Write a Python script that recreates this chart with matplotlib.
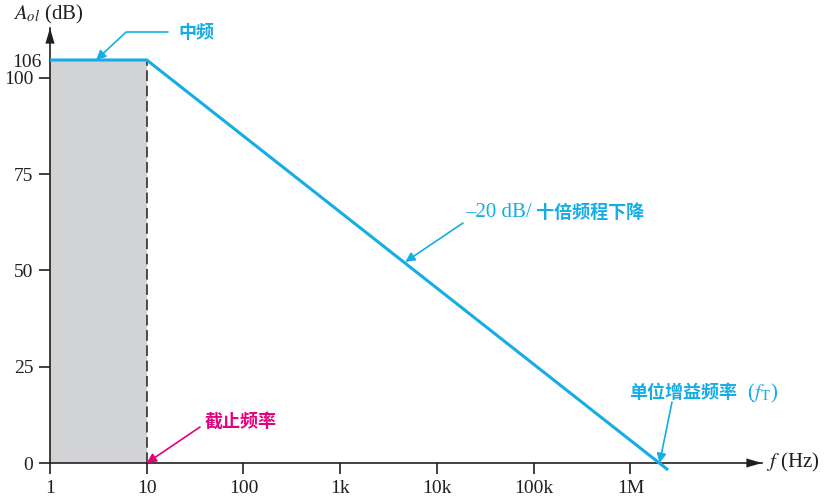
import matplotlib
matplotlib.use('Agg')
import matplotlib.pyplot as plt

# ── Данные ──────────────────────────────────────────────
freq = [1, 10, 2.45e6]          # Гц
gain = [104.6, 104.6, -1.8]     # дБ (по рисунку)
midband_freq = [1, 10]
midband_gain = 104.6
midband_label = '106'
cutoff_freq = 10
unity_freq = 2.0e6
slope_point = (4700, 52.2)
xticks = [1, 10, 100, 1e3, 1e4, 1e5, 1e6]
xtick_labels = ['1', '10', '100', '1k', '10k', '100k', '1M']
yticks = [0, 25, 50, 75, 100]

CYAN = '#15ade6'
MAGENTA = '#e5007d'
AXIS = '#231f20'
SERIF = 'Liberation Serif'
CJK = 'Noto Sans CJK SC'

plt.rcParams['mathtext.fontset'] = 'stix'
plt.rcParams['font.family'] = [SERIF, CJK]

W, H = 824, 500


def fpos(x, y):
    """пиксели (от левого верхнего угла) -> доли фигуры"""
    return (x / W, 1 - y / H)


fig = plt.figure(figsize=(8.24, 5.0), dpi=100)
ax = fig.add_axes([50 / W, 37 / H, 712 / W, 435 / H])

ax.set_xscale('log')
ax.set_xlim(1, 10 ** 7.36)
ax.set_ylim(0, 112.9)

# затенённая полоса пропускания
ax.fill_between(midband_freq, 0, midband_gain, color='#d1d3d4', lw=0, zorder=1)
ax.plot([cutoff_freq, cutoff_freq], [0, midband_gain], color=AXIS, lw=1.1,
        ls=(0, (7, 3)), zorder=2)

# АЧХ
ax.plot(freq, gain, color=CYAN, lw=2.2, clip_on=False, zorder=3,
        solid_capstyle='butt')

# оси
for s in ['top', 'right']:
    ax.spines[s].set_visible(False)
for s in ['left', 'bottom']:
    ax.spines[s].set_color(AXIS)
    ax.spines[s].set_linewidth(1.2)
head = dict(arrowstyle='-|>,head_length=0.75,head_width=0.22', color=AXIS,
            lw=0, mutation_scale=15, shrinkA=0, shrinkB=0)
ax.annotate('', xy=(1, 0), xycoords='axes fraction', xytext=(0.97, 0),
            textcoords='axes fraction', arrowprops=head, annotation_clip=False)
ax.annotate('', xy=(0, 1), xycoords='axes fraction', xytext=(0, 0.95),
            textcoords='axes fraction', arrowprops=head, annotation_clip=False)

ax.set_xticks(xticks)
ax.set_xticklabels(xtick_labels)
ax.xaxis.set_minor_locator(matplotlib.ticker.NullLocator())
ax.set_yticks(yticks)
ax.tick_params(direction='out', length=8, width=1.2, color=AXIS,
               labelsize=14, labelcolor=AXIS, pad=4)
for lab in ax.get_xticklabels() + ax.get_yticklabels():
    lab.set_family(SERIF)
ax.text(-0.012, midband_gain - 0.6, midband_label, transform=ax.get_yaxis_transform(),
        ha='right', va='center', fontsize=14, family=SERIF, color=AXIS)

# подписи осей
fig.text(*fpos(13, 14), r'$A_{ol}$ (dB)', fontsize=15, family=SERIF,
         color=AXIS, ha='left', va='center')
fig.text(*fpos(766, 462), r'$f$ (Hz)', fontsize=15, family=SERIF,
         color=AXIS, ha='left', va='center')

arrow_kw = dict(arrowstyle='-|>', lw=1.2, mutation_scale=14, shrinkA=0, shrinkB=0)

# «中频»
fig.text(*fpos(178, 32), '中频', ha='left', va='center', fontsize=13,
         weight='bold', family=CJK, color=CYAN)
ax.annotate('', xy=(3.0, midband_gain), xycoords='data',
            xytext=fpos(168, 32), textcoords='figure fraction',
            arrowprops=dict(color=CYAN, connectionstyle='angle,angleA=0,angleB=43,rad=0',
                            **arrow_kw))

# «–20 dB/ 十倍频程下降»
t1 = fig.text(*fpos(465, 213), '–20 dB/', ha='left', va='center', fontsize=15,
              family=SERIF, color=CYAN)
ax.annotate(' 十倍频程下降', xy=(1, 0.5), xycoords=t1, ha='left', va='center',
            fontsize=13, weight='bold', family=CJK, color=CYAN)
ax.annotate('', xy=slope_point, xycoords='data', xytext=fpos(463, 223),
            textcoords='figure fraction', arrowprops=dict(color=CYAN, **arrow_kw))

# «截止频率»
fig.text(*fpos(205, 421), '截止频率', ha='left', va='center', fontsize=13,
         weight='bold', family=CJK, color=MAGENTA)
ax.annotate('', xy=(cutoff_freq, 0), xycoords='data', xytext=fpos(200, 427),
            textcoords='figure fraction', arrowprops=dict(color=MAGENTA, **arrow_kw))

# «单位增益频率 (f_T)»
t2 = fig.text(*fpos(629, 393), '单位增益频率', ha='left', va='center', fontsize=13,
              weight='bold', family=CJK, color=CYAN)
ax.annotate(r'  ($f_{\rm T}$)', xy=(1, 0.5), xycoords=t2, ha='left', va='center',
            fontsize=15, family=SERIF, color=CYAN)
ax.annotate('', xy=(unity_freq, 0), xycoords='data', xytext=fpos(672, 402),
            textcoords='figure fraction', arrowprops=dict(color=CYAN, **arrow_kw))

fig.savefig('out.png', dpi=100, facecolor='white')
